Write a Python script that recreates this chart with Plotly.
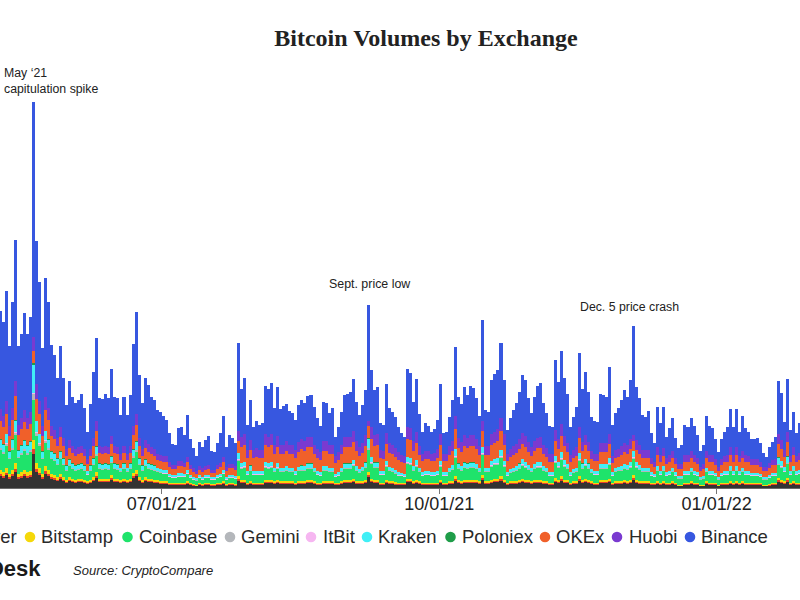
import pandas as pd
import plotly.graph_objects as go

# ---------------- data (daily, starting 2021-05-08) ----------------
start_date = "2021-05-08"

# height of the top of each stacked bar (total of all exchanges)
stack_top = [177,166,197,142,186,248,142,154,175,154,
 171,386,247,206,140,210,186,143,133,110,
 142,110,83,107,91,85,88,94,80,56,
 84,116,150,90,89,94,90,119,91,90,
 73,91,73,93,144,176,113,85,110,103,
 91,88,78,76,72,68,55,44,43,60,
 61,53,73,49,40,32,46,41,48,52,
 37,36,45,55,72,41,53,50,45,145,
 99,110,63,88,61,67,63,65,102,99,
 105,80,101,79,82,84,77,75,68,83,
 88,85,92,93,81,70,62,86,85,75,
 80,51,61,76,93,94,96,109,86,73,
 83,98,183,118,98,101,65,63,104,80,
 76,71,61,55,51,119,115,86,109,74,
 56,65,62,56,59,68,104,55,56,71,
 88,141,91,84,101,93,102,100,90,72,
 168,78,76,108,114,118,145,108,58,70,
 78,85,96,113,108,90,75,91,102,105,
 85,75,62,61,128,106,137,110,94,61,
 71,81,135,99,116,96,71,67,66,94,
 93,91,121,63,75,80,88,98,91,108,
 162,101,90,73,71,77,55,45,81,65,
 81,51,60,70,50,40,43,63,61,70,
 62,53,37,43,72,62,60,49,36,49,
 56,61,79,61,79,56,72,60,56,49,
 49,50,45,35,31,41,46,51,107,95,
 66,109,58,76,55,65,70]

bitfinex = [12,10,13,9,12,16,9,10,12,10,
 11,34,16,13,9,14,12,9,8,7,
 9,7,5,7,6,5,6,6,5,4,
 5,7,10,6,6,6,6,8,6,6,
 5,6,5,6,10,12,7,5,7,6,
 6,5,5,4,4,4,3,3,3,3,
 3,3,4,3,2,2,3,2,3,3,
 2,2,3,3,4,2,3,3,2,7,
 5,5,3,4,3,3,3,3,5,5,
 5,4,5,4,4,4,4,4,3,4,
 4,4,5,5,4,3,3,4,4,4,
 4,3,3,4,5,5,5,6,4,4,
 4,5,11,6,5,5,3,3,5,4,
 4,3,3,3,3,6,6,4,5,4,
 3,3,3,3,3,3,5,3,3,4,
 4,7,5,4,5,5,5,5,5,4,
 8,4,4,5,6,6,7,5,3,4,
 4,4,5,6,5,5,4,5,5,5,
 4,4,3,3,6,5,7,5,5,3,
 4,4,7,5,6,5,4,3,3,5,
 5,5,6,3,4,4,4,5,4,5,
 8,5,4,4,4,4,3,3,4,3,
 4,3,3,4,3,2,2,3,3,4,
 3,3,2,2,4,3,3,3,2,3,
 3,3,4,3,4,3,4,3,3,3,
 3,3,3,2,2,2,3,3,6,5,
 4,6,3,4,3,3,4]

bitflyer = [2,2,2,2,2,3,2,2,2,2,
 2,5,3,2,2,3,2,2,2,1,
 2,1,1,1,1,1,1,1,1,1,
 1,1,2,1,1,1,1,2,1,1,
 1,1,1,1,2,2,1,1,1,1,
 1,1,1,1,1,1,1,1,1,1,
 1,1,1,1,1,0.5,1,1,1,1,
 1,1,1,1,1,1,1,1,1,2,
 1.5,1.5,1,1,1,1,1,1,1.5,1.5,
 1.5,1,1.5,1,1,1,1,1,1,1,
 1,1,1,1,1,1,1,1,1,1,
 1,1,1,1,1,1,1,1.5,1,1,
 1,1,2,1.5,1,1,1,1,1.5,1,
 1,1,1,1,1,1.5,1.5,1,1.5,1,
 1,1,1,1,1,1,1.5,1,1,1,
 1,2,1,1,1,1,1,1,1,1,
 2,1,1,1.5,1.5,1.5,2,1.5,1,1,
 1,1,1,1.5,1.5,1,1,1,1.5,1.5,
 1,1,1,1,1.5,1.5,2,1.5,1,1,
 1,1,2,1,1.5,1,1,1,1,1,
 1,1,1.5,1,1,1,1,1,1,1.5,
 2,1.5,1,1,1,1,1,1,1,1,
 1,1,1,1,1,0.5,0.5,1,1,1,
 1,1,0.5,0.5,1,1,1,1,0.5,1,
 1,1,1,1,1,1,1,1,1,1,
 1,1,1,0.5,0.5,1,1,1,2,1.5,
 1,2,1,1,1,1,1]

bitstamp = [4,4,5,3,4,6,3,4,4,4,
 4,9,6,5,3,5,4,3,3,3,
 3,3,2,3,2,2,2,2,2,2,
 2,3,4,2,2,2,2,3,2,2,
 2,2,2,2,3,4,3,2,3,2,
 2,2,2,2,2,2,1,1,1,1,
 1,1,2,1,1,1,1,1,1,1,
 1,1,1,1,2,1,1,1,1,3,
 2,2,1,2,1,1,1,1,2,2,
 2,2,2,2,2,2,2,2,1,2,
 2,2,2,2,2,1,1,2,2,2,
 2,1,1,2,2,2,2,2,2,2,
 2,2,3,2,2,2,1,1,2,2,
 2,2,1,1,1,2,2,2,2,2,
 1,1,1,1,1,1,2,1,1,2,
 2,3,2,2,2,2,2,2,2,2,
 3,2,2,2,2,2,3,2,1,2,
 2,2,2,2,2,2,2,2,2,2,
 2,2,1,1,3,2,3,2,2,1,
 2,2,3,2,2,2,2,1,1,2,
 2,2,2,1,2,2,2,2,2,2,
 3,2,2,2,2,2,1,1,2,1,
 2,1,1,2,1,1,1,1,1,2,
 1,1,1,1,2,1,1,1,1,1,
 1,1,2,1,2,1,2,1,1,1,
 1,1,1,1,1,1,1,1,2,2,
 2,2,1,2,1,1,2]

coinbase = [20,18,22,15,20,28,16,17,19,17,
 19,40,27,22,15,23,20,15,14,12,
 15,12,9,11,10,9,9,10,9,6,
 9,12,16,10,9,10,9,12,10,9,
 8,10,8,10,15,18,12,9,11,10,
 9,9,8,8,7,7,6,5,5,6,
 6,6,7,5,4,4,5,4,5,5,
 4,4,5,6,7,4,5,5,5,15,
 11,12,8,10,8,8,8,8,12,11,
 12,9,11,9,9,10,9,9,8,10,
 10,10,11,11,9,8,7,10,10,9,
 9,6,7,9,11,11,11,13,10,8,
 10,12,22,15,12,12,8,8,13,10,
 9,8,7,7,6,15,14,10,13,9,
 7,8,8,7,7,8,13,7,7,9,
 11,18,11,10,12,11,12,12,11,9,
 20,9,9,13,14,14,18,13,7,8,
 9,10,11,13,12,10,9,11,12,12,
 10,9,7,7,15,12,16,13,11,7,
 8,9,15,11,13,11,8,8,8,11,
 11,11,14,7,9,10,10,11,11,12,
 16,12,11,9,9,9,7,6,10,8,
 10,7,8,9,7,6,6,8,8,9,
 8,7,5,6,9,8,8,7,5,7,
 8,8,10,8,10,8,9,8,8,7,
 7,7,6,5,5,6,7,7,13,12,
 9,14,8,10,8,9,9]

gemini = [2,2,2,1,2,2,1,2,2,2,
 2,6,3,2,1,2,2,1,1,1,
 1,1,1,1,1,1,1,1,1,0.5,
 1,1,2,1,1,1,1,1,1,1,
 1,1,1,1,2,2,1,1,1,1,
 1,1,1,1,0.5,0.5,0.5,0.5,0.5,0.5,
 0.5,0.5,0.5,0.5,0.5,0.5,0.5,0.5,0.5,0.5,
 0.5,0.5,0.5,0.5,0.5,0.5,0.5,0.5,0.5,1.5,
 1,1,0.5,1,0.5,0.5,0.5,0.5,1,1,
 1,1,1,1,1,1,1,1,0.5,1,
 1,1,1,1,1,0.5,0.5,1,1,1,
 1,0.5,0.5,1,1,1,1,1,1,1,
 1,1,2,1,1,1,0.5,0.5,1,1,
 1,1,0.5,0.5,0.5,1,1,1,1,1,
 0.5,0.5,0.5,0.5,0.5,0.5,1,0.5,0.5,1,
 1,1.5,1,1,1,1,1,1,1,1,
 1.5,1,1,1,1,1,1.5,1,0.5,1,
 1,1,1,1,1,1,1,1,1,1,
 1,1,0.5,0.5,1,1,1.5,1,1,0.5,
 1,1,1.5,1,1,1,1,0.5,0.5,1,
 1,1,1,0.5,1,1,1,1,1,1,
 1.5,1,1,1,1,1,0.5,0.5,1,0.5,
 1,0.5,0.5,1,0.5,0.5,0.5,0.5,0.5,1,
 0.5,0.5,0.5,0.5,1,0.5,0.5,0.5,0.5,0.5,
 0.5,0.5,1,0.5,1,0.5,1,0.5,0.5,0.5,
 0.5,0.5,0.5,0.5,0.5,0.5,0.5,0.5,1,1,
 0.5,1,0.5,1,0.5,0.5,0.5]

itbit = [0.5,0.5,0.6,0.4,0.5,0.8,0.4,0.5,0.5,0.5,
 0.5,1.2,0.7,0.6,0.4,0.6,0.5,0.4,0.4,0.3,
 0.4,0.3,0.3,0.3,0.3,0.3,0.3,0.3,0.3,0.2,
 0.3,0.3,0.4,0.3,0.3,0.3,0.3,0.3,0.3,0.3,
 0.2,0.3,0.2,0.3,0.4,0.5,0.3,0.3,0.3,0.3,
 0.3,0.3,0.2,0.2,0.2,0.2,0.2,0.2,0.2,0.2,
 0.2,0.2,0.2,0.2,0.2,0.2,0.2,0.2,0.2,0.2,
 0.2,0.2,0.2,0.2,0.2,0.2,0.2,0.2,0.2,0.4,
 0.3,0.3,0.2,0.3,0.2,0.2,0.2,0.2,0.3,0.3,
 0.3,0.2,0.3,0.2,0.2,0.2,0.2,0.2,0.2,0.2,
 0.3,0.3,0.3,0.3,0.2,0.2,0.2,0.3,0.3,0.2,
 0.2,0.2,0.2,0.2,0.3,0.3,0.3,0.3,0.3,0.2,
 0.2,0.3,0.5,0.3,0.3,0.3,0.2,0.2,0.3,0.2,
 0.2,0.2,0.2,0.2,0.2,0.3,0.3,0.3,0.3,0.2,
 0.2,0.2,0.2,0.2,0.2,0.2,0.3,0.2,0.2,0.2,
 0.3,0.4,0.3,0.3,0.3,0.3,0.3,0.3,0.3,0.2,
 0.4,0.2,0.2,0.3,0.3,0.3,0.4,0.3,0.2,0.2,
 0.2,0.2,0.3,0.3,0.3,0.3,0.2,0.3,0.3,0.3,
 0.2,0.2,0.2,0.2,0.3,0.3,0.4,0.3,0.3,0.2,
 0.2,0.2,0.4,0.3,0.3,0.3,0.2,0.2,0.2,0.3,
 0.3,0.3,0.3,0.2,0.2,0.2,0.2,0.3,0.3,0.3,
 0.4,0.3,0.3,0.2,0.2,0.2,0.2,0.2,0.2,0.2,
 0.2,0.2,0.2,0.2,0.2,0.2,0.2,0.2,0.2,0.2,
 0.2,0.2,0.2,0.2,0.2,0.2,0.2,0.2,0.2,0.2,
 0.2,0.2,0.2,0.2,0.2,0.2,0.2,0.2,0.2,0.2,
 0.2,0.2,0.2,0.2,0.2,0.2,0.2,0.2,0.3,0.3,
 0.2,0.3,0.2,0.2,0.2,0.2,0.2]

kraken = [8,7,9,6,8,11,6,7,8,7,
 8,28,11,9,6,9,8,6,6,5,
 6,5,4,5,4,4,4,4,4,3,
 4,5,7,4,4,4,4,5,4,4,
 3,4,3,4,6,8,5,4,5,4,
 4,4,3,3,3,3,2,2,2,3,
 3,2,3,2,2,2,2,2,2,2,
 2,2,2,2,3,2,2,2,2,6,
 4,4,3,4,3,3,3,3,4,4,
 4,3,4,3,3,4,3,3,3,3,
 4,4,4,4,3,3,3,4,4,3,
 3,2,3,3,4,4,4,4,4,3,
 3,4,9,5,4,4,3,3,4,3,
 3,3,3,2,2,5,5,4,5,3,
 3,3,3,3,3,3,4,3,3,3,
 4,7,4,4,4,4,4,4,4,3,
 6,3,3,4,4,5,6,4,3,3,
 3,4,4,5,4,4,3,4,4,4,
 4,3,3,3,5,4,6,5,4,3,
 3,3,6,4,5,4,3,3,3,4,
 4,4,5,3,3,3,4,4,4,4,
 6,4,4,3,3,3,3,2,4,3,
 4,3,3,3,3,2,2,3,3,3,
 3,3,2,2,3,3,3,2,2,2,
 3,3,4,3,4,3,3,3,3,2,
 2,2,2,2,2,2,2,2,6,5,
 4,6,3,4,3,3,3]

poloniex = [0.6,0.5,0.6,0.5,0.6,0.8,0.5,0.5,0.6,0.5,
 0.6,1.5,0.8,0.7,0.5,0.7,0.6,0.5,0.5,0.4,
 0.5,0.4,0.3,0.4,0.3,0.3,0.3,0.3,0.3,0.2,
 0.3,0.4,0.5,0.3,0.3,0.3,0.3,0.4,0.3,0.3,
 0.3,0.3,0.3,0.3,0.5,0.6,0.4,0.3,0.4,0.3,
 0.3,0.3,0.3,0.3,0.3,0.3,0.2,0.2,0.2,0.2,
 0.2,0.2,0.3,0.2,0.2,0.2,0.2,0.2,0.2,0.2,
 0.2,0.2,0.2,0.2,0.3,0.2,0.2,0.2,0.2,0.5,
 0.3,0.3,0.2,0.3,0.2,0.2,0.2,0.2,0.3,0.3,
 0.3,0.2,0.3,0.2,0.2,0.3,0.2,0.2,0.2,0.2,
 0.3,0.2,0.3,0.3,0.2,0.2,0.2,0.2,0.2,0.2,
 0.2,0.2,0.2,0.2,0.3,0.3,0.3,0.3,0.2,0.2,
 0.2,0.3,0.6,0.3,0.3,0.3,0.2,0.2,0.3,0.2,
 0.2,0.2,0.2,0.2,0.2,0.3,0.3,0.2,0.3,0.2,
 0.2,0.2,0.2,0.2,0.2,0.2,0.3,0.2,0.2,0.2,
 0.2,0.4,0.3,0.2,0.3,0.3,0.3,0.3,0.2,0.2,
 0.4,0.2,0.2,0.3,0.3,0.3,0.4,0.3,0.2,0.2,
 0.2,0.2,0.3,0.3,0.3,0.2,0.2,0.2,0.3,0.3,
 0.2,0.2,0.2,0.2,0.3,0.3,0.4,0.3,0.2,0.2,
 0.2,0.2,0.3,0.3,0.3,0.3,0.2,0.2,0.2,0.2,
 0.2,0.2,0.3,0.2,0.2,0.2,0.2,0.2,0.2,0.3,
 0.4,0.3,0.2,0.2,0.2,0.2,0.2,0.1,0.2,0.2,
 0.2,0.1,0.2,0.2,0.1,0.1,0.1,0.2,0.2,0.2,
 0.2,0.1,0.1,0.1,0.2,0.2,0.2,0.1,0.1,0.1,
 0.2,0.2,0.2,0.2,0.2,0.1,0.2,0.2,0.2,0.1,
 0.1,0.1,0.1,0.1,0.1,0.1,0.1,0.1,0.3,0.3,
 0.2,0.3,0.2,0.2,0.1,0.2,0.2]

okex = [18,17,20,15,19,24,15,16,18,16,
 17,12,22,20,15,21,19,15,14,12,
 14,12,9,11,10,9,10,10,9,7,
 9,12,15,10,10,10,10,12,10,10,
 8,10,8,10,14,16,12,9,11,11,
 10,9,8,8,8,8,7,6,6,7,
 7,7,8,6,5,4,5,5,5,6,
 4,4,6,7,8,6,7,7,6,12,
 16,17,13,15,13,14,13,13,17,16,
 17,14,16,14,14,15,14,14,13,15,
 16,15,16,16,14,13,12,15,15,14,
 14,11,12,14,16,16,16,18,15,13,
 14,16,12,18,16,17,13,12,17,14,
 14,13,12,11,11,18,18,15,17,13,
 11,12,12,11,11,13,16,11,11,13,
 14,20,15,14,16,15,16,16,15,13,
 16,13,13,16,16,17,19,16,11,12,
 13,13,14,15,15,13,12,13,14,14,
 12,11,10,10,15,13,16,14,12,10,
 11,12,15,12,14,12,10,10,10,12,
 12,12,14,9,10,10,11,12,11,13,
 10,12,11,10,10,10,8,7,11,9,
 10,8,9,10,8,7,7,9,9,10,
 9,8,6,7,10,9,9,8,6,8,
 9,9,11,9,11,9,10,9,9,8,
 8,8,7,6,6,7,8,8,13,12,
 10,14,9,11,9,10,10]

huobi = [12,11,13,10,12,15,10,11,12,11,
 12,14,15,13,10,13,12,10,9,8,
 10,8,7,8,7,7,7,7,7,5,
 7,8,10,7,7,7,7,8,7,7,
 6,7,6,7,9,11,8,7,8,8,
 7,7,6,6,6,6,5,4,4,5,
 5,4,5,4,4,3,4,4,4,4,
 3,3,4,4,5,4,4,4,4,10,
 10,11,8,10,8,9,8,8,11,10,
 11,9,11,9,9,10,9,9,8,10,
 10,10,10,10,9,9,8,10,10,9,
 9,7,8,9,10,10,10,11,10,9,
 10,11,5,12,11,11,8,8,11,10,
 9,9,8,7,7,12,12,10,11,9,
 7,8,8,7,8,9,11,7,7,9,
 10,13,10,10,11,10,11,11,10,9,
 10,9,9,11,11,12,13,11,7,8,
 9,9,10,11,11,10,9,10,10,11,
 9,9,8,8,11,10,12,10,9,7,
 8,9,11,9,10,9,8,7,7,9,
 9,9,10,7,8,8,9,9,9,10,
 6,10,9,8,8,8,6,5,8,7,
 8,6,7,7,6,5,5,7,7,7,
 7,6,4,5,7,7,7,6,4,6,
 6,7,8,7,8,6,7,7,6,6,
 6,6,5,4,4,5,5,6,10,9,
 7,10,6,8,6,7,7]

tick_dates = ["2021-07-01", "2021-10-01", "2022-01-01"]
tick_labels = ["07/01/21", "10/01/21", "01/01/22"]

exchanges = ["Bitfinex", "bitFlyer", "Bitstamp", "Coinbase", "Gemini", "ItBit",
             "Kraken", "Poloniex", "OKEx", "Huobi", "Binance"]
colors = ["#333333", "#e8412c", "#f5d80a", "#1fe36b", "#b4b7bb", "#f6b6f1",
          "#40eff6", "#1f9d49", "#f0602a", "#7a3ad0", "#3757e0"]

# ---------------- build ----------------
lower = [bitfinex, bitflyer, bitstamp, coinbase, gemini, itbit,
         kraken, poloniex, okex, huobi]
n = len(stack_top)
for s in lower:
    assert len(s) == n, (len(s), n)
# Binance is the top segment: from the top of Huobi to the top of the bar
binance = [round(t - sum(parts), 2) for t, parts in zip(stack_top, zip(*lower))]
series = lower + [binance]

dates = pd.date_range(start_date, periods=n, freq="D")

fig = go.Figure()
for name, vals, col in zip(exchanges, series, colors):
    fig.add_trace(go.Bar(
        x=dates, y=vals, name=name,
        marker=dict(color=col, line=dict(width=0)),
        xperiod=86400000, xperiodalignment="middle",
        showlegend=False,
    ))

# pixel helpers (plot area spans the whole width, y from 100px to 488px)
W, H = 800, 600
PLOT_TOP, PLOT_BOTTOM = 100, 488
def px(x):
    return x / W
def py(y):
    return (PLOT_BOTTOM - y) / (PLOT_BOTTOM - PLOT_TOP)

# x range so that 2021-07-01 sits at x=161.7 px with 3.016 px per day
jul1 = pd.Timestamp("2021-07-01")
ppd = 3.016
x_start = jul1 - pd.Timedelta(days=161.7 / ppd)
x_end = jul1 + pd.Timedelta(days=(W - 161.7) / ppd)

SANS = "Liberation Sans, Arial, Helvetica, sans-serif"
TXT = "#222222"

annotations = [
    dict(text="May \u201821<br>capitulation spike", x=px(2), y=py(64), xanchor="left",
         yanchor="top", align="left", font=dict(family=SANS, size=12.3, color=TXT)),
    dict(text="Sept. price low", x=px(327), y=py(284), xanchor="left", yanchor="middle",
         font=dict(family=SANS, size=12.4, color=TXT)),
    dict(text="Dec. 5 price crash", x=px(578), y=py(307), xanchor="left", yanchor="middle",
         font=dict(family=SANS, size=12.3, color=TXT)),
    dict(text="<b>CoinDesk</b>", x=px(43), y=py(568), xanchor="right", yanchor="middle",
         font=dict(family=SANS, size=22, color="#1a1a1a")),
    dict(text="<i>Source: CryptoCompare</i>", x=px(71), y=py(570), xanchor="left",
         yanchor="middle", font=dict(family=SANS, size=13, color=TXT)),
]

# legend (dot + label), laid out to match the reference spacing
legend_dot_x = [-142, -56, 30, 127.5, 230, 311, 367, 450.5, 545, 617, 690]
legend_txt_x = [-131, -45, 40, 138, 240, 321.5, 377, 461, 555, 627.5, 700]
LEG_Y = 537
shapes = []
r = 5.3
for name, col, dx, tx in zip(exchanges, colors, legend_dot_x, legend_txt_x):
    shapes.append(dict(type="circle", xref="paper", yref="paper",
                       x0=px(dx - r), x1=px(dx + r), y0=py(LEG_Y + r), y1=py(LEG_Y - r),
                       fillcolor=col, line=dict(width=0)))
    annotations.append(dict(text=name, x=px(tx - 1), y=py(LEG_Y - 0.5), xanchor="left",
                            yanchor="middle", font=dict(family=SANS, size=18.5, color="#2a2a2a")))

for a in annotations:
    a.setdefault("xref", "paper")
    a.setdefault("yref", "paper")
    a["showarrow"] = False

fig.update_layout(
    width=W, height=H,
    barmode="stack", bargap=0,
    paper_bgcolor="white", plot_bgcolor="white",
    margin=dict(l=0, r=0, t=PLOT_TOP, b=H - PLOT_BOTTOM, pad=0, autoexpand=False),
    title=dict(text="<b>Bitcoin Volumes by Exchange</b>", x=426 / W, xanchor="center",
               xref="container", y=1 - 38 / H, yanchor="middle", yref="container",
               font=dict(family="Liberation Serif, Times New Roman, serif", size=24, color=TXT)),
    xaxis=dict(type="date", range=[x_start, x_end], tickvals=tick_dates, ticktext=tick_labels,
               showgrid=False, zeroline=False, showline=True, linecolor="#6b6b6b", linewidth=1,
               ticks="outside", ticklen=5, tickcolor="#777777", tickwidth=1,
               ticklabelstandoff=-6,
               tickfont=dict(family=SANS, size=18, color=TXT), fixedrange=True),
    yaxis=dict(range=[0, PLOT_BOTTOM - PLOT_TOP], visible=False, fixedrange=True),
    annotations=annotations,
    shapes=shapes,
    showlegend=False,
)

fig.write_html("out.html",
               config={"displayModeBar": False, "staticPlot": True},
               post_script="document.body.style.margin='0';document.body.style.padding='0';")
